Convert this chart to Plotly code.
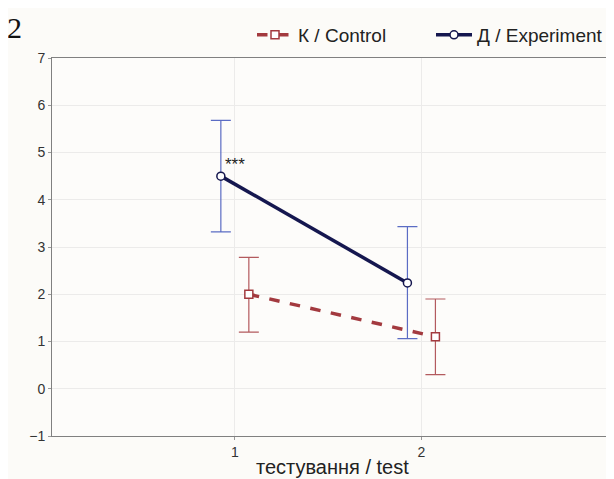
import plotly.graph_objects as go

tests = [1, 2]
tick_labels = ["1", "2"]
control_mean = [2.0, 1.1]
control_upper = [2.78, 1.9]
control_lower = [1.2, 0.3]
exp_mean = [4.5, 2.24]
exp_upper = [5.68, 3.43]
exp_lower = [3.32, 1.06]

OFF = 0.075
xc = [t + OFF for t in tests]
xe = [t - OFF for t in tests]

W, H = 606, 471
ML, MR, MT, MB = 44, 6, 50, 43
PW, PH = W - ML - MR, H - MT - MB

fig = go.Figure()
fig.add_trace(go.Scatter(
    x=xc, y=control_mean, name="К / Control", mode="lines+markers",
    line=dict(color="#a33a3f", width=3.5, dash="dash"),
    marker=dict(symbol="square", size=8, color="white", line=dict(color="#a33a3f", width=1.5)),
    error_y=dict(type="data", symmetric=False,
                 array=[u - m for u, m in zip(control_upper, control_mean)],
                 arrayminus=[m - l for m, l in zip(control_mean, control_lower)],
                 color="#b35a5e", thickness=1.2, width=10),
))
fig.add_trace(go.Scatter(
    x=xe, y=exp_mean, name="Д / Experiment", mode="lines+markers",
    line=dict(color="#15174f", width=3.5),
    marker=dict(symbol="circle", size=8, color="white", line=dict(color="#15174f", width=1.5)),
    error_y=dict(type="data", symmetric=False,
                 array=[u - m for u, m in zip(exp_upper, exp_mean)],
                 arrayminus=[m - l for m, l in zip(exp_mean, exp_lower)],
                 color="#5b6cc4", thickness=1.2, width=10),
))

fig.add_annotation(x=xe[0], y=exp_mean[0], text="***", showarrow=False,
                   xanchor="left", yanchor="bottom", xshift=2, yshift=0,
                   font=dict(family="Arial, Liberation Sans", size=17, color="#222"))
fig.add_annotation(x=-(ML + 3) / PW, y=(PH + MT - 1) / PH, xref="paper", yref="paper",
                   text="2", showarrow=False, xanchor="left", yanchor="top",
                   font=dict(family="Liberation Serif, Times New Roman", size=30, color="#111"))
fig.add_annotation(x=0.504, y=-31 / PH, xref="paper", yref="paper", text="тестування / test",
                   showarrow=False, xanchor="center", yanchor="middle",
                   font=dict(family="Arial, Liberation Sans", size=20, color="#222"))

axis_common = dict(showline=True, linecolor="#808080", linewidth=1, mirror=True,
                   showgrid=True, gridcolor="#ecebea", gridwidth=1, zeroline=False,
                   ticks="outside", ticklen=3, tickcolor="#999", automargin=False,
                   tickfont=dict(family="Arial, Liberation Sans", size=14, color="#333"))
fig.update_xaxes(range=[0.02, 3.0], tickvals=tests, ticktext=tick_labels, **axis_common)
fig.update_yaxes(range=[-1, 7], dtick=1, **axis_common)

fig.update_layout(
    width=W, height=H,
    margin=dict(l=ML, r=MR, t=MT, b=MB, autoexpand=False),
    paper_bgcolor="#fcfbf8", plot_bgcolor="#fdfcfa",
    showlegend=True,
    legend=dict(orientation="h", xref="container", yref="container",
                x=244 / W, xanchor="left", y=(H - 8) / H, yanchor="top",
                font=dict(family="Arial, Liberation Sans", size=19, color="#222"),
                bgcolor="rgba(0,0,0,0)", itemwidth=36,
                entrywidth=128, entrywidthmode="pixels"),
)

fig.write_html("out.html")
